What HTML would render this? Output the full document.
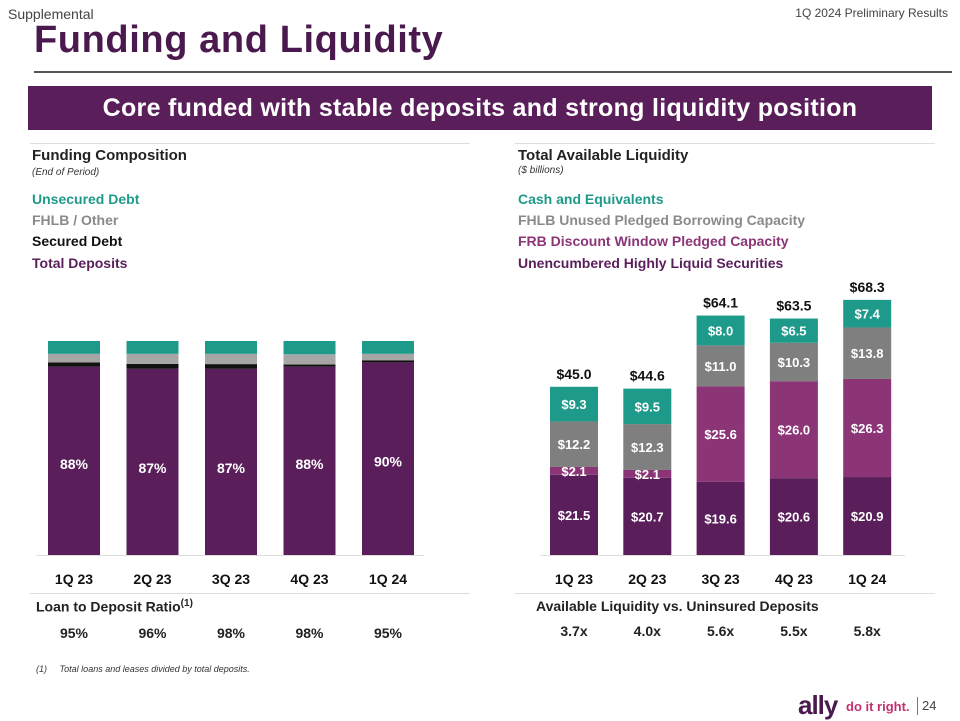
<!DOCTYPE html>
<html><head><meta charset="utf-8"><style>
body{margin:0;width:960px;height:720px;position:relative;background:#fff;font-family:"Liberation Sans",sans-serif;overflow:hidden}
.a{position:absolute;white-space:nowrap}
.b{font-weight:bold}
</style></head><body>
<div class="a" style="left:8px;top:6px;font-size:14px;color:#444">Supplemental</div>
<div class="a" style="right:12px;top:6px;font-size:12px;color:#444">1Q 2024 Preliminary Results</div>
<div class="a b" style="left:34px;top:19px;font-size:38px;color:#4a1a4e;letter-spacing:0.6px">Funding and Liquidity</div>
<div class="a" style="left:34px;top:71px;width:918px;height:2px;background:#555"></div>
<div class="a b" style="left:28px;top:86px;width:904px;height:44px;background:#5a1f5b;color:#fff;font-size:25px;letter-spacing:0.3px;text-align:center;line-height:44px">Core funded with stable deposits and strong liquidity position</div>
<div class="a" style="left:30px;top:143px;width:440px;height:1px;background:#ddd"></div>
<div class="a" style="left:515px;top:143px;width:420px;height:1px;background:#ddd"></div>
<div class="a b" style="left:32px;top:147px;font-size:15px;color:#222">Funding Composition</div>
<div class="a" style="left:32px;top:167px;font-size:10px;font-style:italic;color:#333">(End of Period)</div>
<div class="a b" style="left:32px;top:191px;font-size:14px;color:#1e9a8a">Unsecured Debt</div>
<div class="a b" style="left:32px;top:212px;font-size:14px;color:#8a8a8a">FHLB / Other</div>
<div class="a b" style="left:32px;top:233px;font-size:14px;color:#111">Secured Debt</div>
<div class="a b" style="left:32px;top:255px;font-size:14px;color:#5a1f5b">Total Deposits</div>
<div class="a b" style="left:518px;top:147px;font-size:15px;color:#222">Total Available Liquidity</div>
<div class="a" style="left:518px;top:165px;font-size:10px;font-style:italic;color:#333">($ billions)</div>
<div class="a b" style="left:518px;top:191px;font-size:14px;color:#1e9a8a">Cash and Equivalents</div>
<div class="a b" style="left:518px;top:212px;font-size:14px;color:#8a8a8a">FHLB Unused Pledged Borrowing Capacity</div>
<div class="a b" style="left:518px;top:233px;font-size:14px;color:#8b3577">FRB Discount Window Pledged Capacity</div>
<div class="a b" style="left:518px;top:255px;font-size:14px;color:#5a1f5b">Unencumbered Highly Liquid Securities</div>

<svg class="a" style="left:0;top:0" width="960" height="720" font-family="Liberation Sans, sans-serif" font-weight="bold"></svg>

<div class="a" style="left:30px;top:593px;width:440px;height:1px;background:#ddd"></div>
<div class="a" style="left:515px;top:593px;width:420px;height:1px;background:#ddd"></div>
<div class="a b" style="left:36px;top:598px;font-size:14px;color:#222">Loan to Deposit Ratio<sup style="font-size:10px">(1)</sup></div>
<div class="a b" style="left:536px;top:598px;font-size:14px;color:#222">Available Liquidity vs. Uninsured Deposits</div>
<div class="a" style="left:36px;top:664px;font-size:9px;font-style:italic;color:#333">(1)&nbsp;&nbsp;&nbsp;&nbsp;&nbsp;Total loans and leases divided by total deposits.</div>
<div class="a b" style="left:798px;top:690px;font-size:26px;color:#4a1a4e;letter-spacing:-1px">ally</div>
<div class="a b" style="left:846px;top:699px;font-size:13px;color:#c2306e">do it right.</div>
<div class="a" style="left:917px;top:697px;width:1px;height:18px;background:#777"></div>
<div class="a" style="left:922px;top:698px;font-size:13px;color:#444">24</div>

<script>
const quarters=['1Q 23','2Q 23','3Q 23','4Q 23','1Q 24'];
const depositPct=[88,87,87,88,90];
const securedPct=[2,2.3,2.2,1,1];
const fhlbPct=[4,4.7,4.8,4.8,3];
const unsecuredPct=[6,6,6,6.2,6];
const ldr=['95%','96%','98%','98%','95%'];
const securities=[21.5,20.7,19.6,20.6,20.9];
const frb=[2.1,2.1,25.6,26.0,26.3];
const fhlbUnused=[12.2,12.3,11.0,10.3,13.8];
const cash=[9.3,9.5,8.0,6.5,7.4];
const totals=['$45.0','$44.6','$64.1','$63.5','$68.3'];
const ratios=['3.7x','4.0x','5.6x','5.5x','5.8x'];

const svg=document.querySelector('svg');
const NS='http://www.w3.org/2000/svg';
function mk(t,at){const e=document.createElementNS(NS,t);for(const k in at)e.setAttribute(k,at[k]);svg.appendChild(e);return e;}
function txt(x,y,s,fill,size,name){const e=mk('text',{x:x,y:y,fill:fill,'font-size':size,'text-anchor':'middle'});e.textContent=s;return e;}
const base=555;
const lx=i=>48+i*78.5, lw=52, ly=p=>p*2.14;
mk('line',{x1:36,x2:424,y1:base+0.5,y2:base+0.5,stroke:'#ddd'});
quarters.forEach((q,i)=>{
  let y=base;
  [[depositPct,'#5a1f5b','deposits'],[securedPct,'#111','secured'],[fhlbPct,'#a6a6a6','fhlb'],[unsecuredPct,'#1e9a8a','unsecured']].forEach(([arr,c,n])=>{
    const h=ly(arr[i]);y-=h;
    const r=mk('rect',{x:lx(i),y:y,width:lw,height:h,fill:c});
    
    
  });
  txt(lx(i)+lw/2,base-ly(depositPct[i])/2+8+(depositPct[i]<88?3:0),depositPct[i]+'%','#fff',14,'deposit-pct-label');
  txt(lx(i)+lw/2,584,q,'#111',14,'x-label-left');
  txt(lx(i)+lw/2,638,ldr[i],'#222',14,'ldr-value');
});
const rx=i=>550+i*73.3, rw=48, ry=v=>v*3.73;
mk('line',{x1:540,x2:905,y1:base+0.5,y2:base+0.5,stroke:'#ddd'});
quarters.forEach((q,i)=>{
  let y=base;
  [[securities,'#5a1f5b','securities'],[frb,'#8b3577','frb'],[fhlbUnused,'#7f7f7f','fhlb-unused'],[cash,'#1e9a8a','cash']].forEach(([arr,c,n])=>{
    const h=ry(arr[i]);y-=h;
    const r=mk('rect',{x:rx(i),y:y,width:rw,height:h,fill:c});
    
    
    txt(rx(i)+rw/2,y+h/2+5,'$'+arr[i].toFixed(1),'#fff',13,'value-label-'+n);
  });
  txt(rx(i)+rw/2,y-8,totals[i],'#111',14,'total-label');
  txt(rx(i)+rw/2,584,q,'#111',14,'x-label-right');
  txt(rx(i)+rw/2,636,ratios[i],'#222',14,'ratio-value');
});
</script>
</body></html>
